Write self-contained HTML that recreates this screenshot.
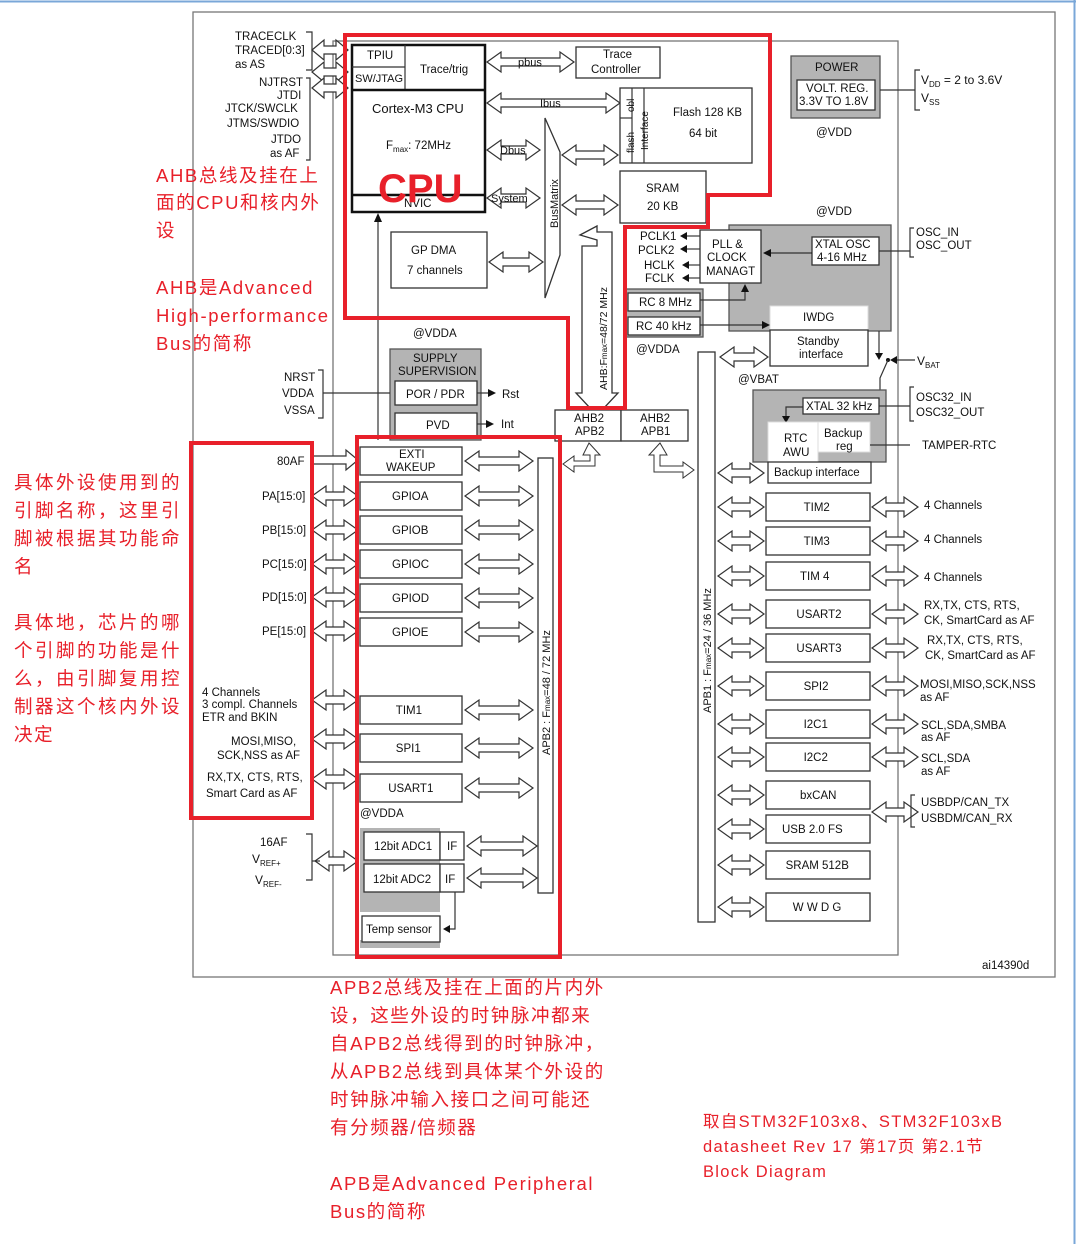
<!DOCTYPE html>
<html><head><meta charset="utf-8"><style>
body{margin:0;background:#fff}
svg{display:block}
text{font-family:"Liberation Sans",sans-serif;font-size:11.5px;fill:#111}
.r{font-family:"Liberation Sans","Noto Sans CJK SC",sans-serif;font-size:18.5px;fill:#e8202a;letter-spacing:1.6px}
.b{fill:#fff;stroke:#333;stroke-width:1.3}
.g{fill:#b4b4b4;stroke:#555;stroke-width:1.3}
.k{stroke:#333;stroke-width:1.2;fill:none}
.red{fill:none;stroke:#e8202a;stroke-width:4}
</style></head><body>
<svg id="s" width="1076" height="1244" viewBox="0 0 1076 1244" xmlns="http://www.w3.org/2000/svg">
<rect x="0" y="0" width="1076" height="1244" fill="#fff"/>
<line x1="0" y1="1.5" x2="1076" y2="1.5" stroke="#7aa7d8" stroke-width="2"/>
<line x1="1074.5" y1="0" x2="1074.5" y2="1244" stroke="#7aa7d8" stroke-width="2"/>
<rect x="193" y="12" width="862" height="965" fill="none" stroke="#777" stroke-width="1.3"/>
<rect x="333" y="41" width="565" height="914" fill="none" stroke="#777" stroke-width="1.3"/>
<g id="arrows"></g>
<!-- CPU -->
<rect x="352" y="45" width="133" height="167" class="b" style="stroke:#111;stroke-width:2.5"/>
<line x1="352" y1="67" x2="405" y2="67" class="k"/><line x1="405" y1="45" x2="405" y2="90" class="k"/>
<line x1="352" y1="90" x2="485" y2="90" stroke="#111" stroke-width="2.5"/>
<line x1="352" y1="195" x2="485" y2="195" stroke="#111" stroke-width="2.5"/>
<text x="367" y="59">TPIU</text><text x="355" y="82" style="font-size:11px">SW/JTAG</text><text x="420" y="73">Trace/trig</text>
<text x="372" y="113" style="font-size:13px">Cortex-M3 CPU</text>
<text x="386" y="149">F<tspan font-size="8" dy="3">max</tspan><tspan dy="-3">: 72MHz</tspan></text>
<text x="404" y="207">NVIC</text>
<text x="378" y="202" style="font-family:'Liberation Sans',sans-serif;font-size:40px;font-weight:bold;fill:#e8202a">CPU</text>
<rect x="576" y="47" width="84" height="31" class="b"/><text x="603" y="58">Trace</text><text x="591" y="73">Controller</text>
<rect x="620" y="88" width="132" height="75" class="b"/><line x1="632" y1="88" x2="632" y2="163" class="k"/><line x1="644" y1="88" x2="644" y2="163" class="k"/><line x1="620" y1="118" x2="632" y2="118" class="k"/>
<text x="673" y="116">Flash 128 KB</text><text x="689" y="137">64 bit</text>
<text transform="translate(634,112) rotate(-90)" style="font-size:10px">obl</text>
<text transform="translate(634,153) rotate(-90)" style="font-size:10px">flash</text>
<text transform="translate(648,150) rotate(-90)" style="font-size:10px">Interface</text>
<rect x="620" y="171" width="86" height="52" class="b"/><text x="646" y="192">SRAM</text><text x="647" y="210">20 KB</text>
<rect x="391" y="232" width="96" height="56" class="b"/><text x="411" y="254">GP DMA</text><text x="407" y="274">7 channels</text>
<polygon points="545,118 560,152 560,255 545,298" class="b"/>
<text transform="translate(558,228) rotate(-90)" style="font-size:11px">BusMatrix</text>
<line x1="378" y1="220" x2="378" y2="440" class="k"/><polygon points="374,222 382,222 378,213" fill="#111"/>
<!-- AHB vertical -->
<polygon points="580,235 597,226 597,232 612,232 612,393 618,393 604,408 590,408 576,393 582,393 582,246 597,246 597,240" class="b"/>
<text transform="translate(607,390) rotate(-90)" style="font-size:10.5px">AHB:F<tspan font-size="8">max</tspan>=48/72 MHz</text>
<rect x="555" y="410" width="66" height="31" class="b"/><rect x="621" y="410" width="67" height="31" class="b"/>
<text x="574" y="422">AHB2</text><text x="575" y="435">APB2</text><text x="640" y="422">AHB2</text><text x="641" y="435">APB1</text>
<!-- clocks -->
<text x="640" y="240">PCLK1</text><text x="638" y="254">PCLK2</text><text x="644" y="269">HCLK</text><text x="645" y="282">FCLK</text>
<g stroke="#111" stroke-width="1"><line x1="682" y1="236" x2="700" y2="236"/><line x1="682" y1="249" x2="700" y2="249"/><line x1="684" y1="265" x2="700" y2="265"/><line x1="684" y1="278" x2="700" y2="278"/></g>
<g fill="#111"><polygon points="680,236 687,232 687,240"/><polygon points="680,249 687,245 687,253"/><polygon points="682,265 689,261 689,269"/><polygon points="682,278 689,274 689,282"/></g>
<rect x="729" y="225" width="162" height="106" class="g"/>
<rect x="700" y="230" width="61" height="53" class="b"/><text x="712" y="248">PLL &amp;</text><text x="707" y="261">CLOCK</text><text x="706" y="275">MANAGT</text>
<rect x="812" y="237" width="67" height="28" class="b"/><text x="815" y="248">XTAL OSC</text><text x="817" y="261">4-16 MHz</text>
<line x1="766" y1="253" x2="812" y2="253" stroke="#111"/><polygon points="763,253 771,249 771,257" fill="#111"/>
<rect x="770" y="306" width="98" height="24" fill="#fff" stroke="#ddd"/><text x="803" y="321">IWDG</text>
<rect x="770" y="330" width="98" height="36" class="b"/><text x="797" y="345">Standby</text><text x="799" y="358">interface</text>
<rect x="624" y="289" width="79" height="48" class="g"/>
<rect x="628" y="293" width="72" height="18" class="b"/><text x="639" y="306">RC 8 MHz</text>
<rect x="628" y="317" width="72" height="18" class="b"/><text x="636" y="330">RC 40 kHz</text>
<polyline points="700,300 745,300 745,290" class="k"/><polygon points="741,292 749,292 745,284" fill="#111"/>
<line x1="700" y1="325" x2="762" y2="325" class="k"/><polygon points="762,321 770,325 762,329" fill="#111"/>
<text x="816" y="215">@VDD</text><text x="636" y="353">@VDDA</text><text x="738" y="383">@VBAT</text>
<line x1="879" y1="251" x2="910" y2="251" class="k"/><polyline points="914,228 910,228 910,257 914,257" class="k"/>
<text x="916" y="236">OSC_IN</text><text x="916" y="249">OSC_OUT</text>
<!-- power -->
<rect x="791" y="56" width="89" height="62" class="g"/><text x="815" y="71">POWER</text>
<rect x="797" y="80" width="78" height="30" class="b"/><text x="806" y="92">VOLT. REG.</text><text x="799" y="105">3.3V TO 1.8V</text>
<text x="816" y="136">@VDD</text>
<line x1="880" y1="90" x2="915" y2="90" class="k"/><polyline points="920,70 915,70 915,110 920,110" class="k"/>
<text x="921" y="84" style="font-size:12px">V<tspan font-size="8" dy="3">DD</tspan><tspan dy="-3"> = 2 to 3.6V</tspan></text>
<text x="921" y="102" style="font-size:12px">V<tspan font-size="8" dy="3">SS</tspan></text>
<!-- vbat -->
<polyline points="879,331 879,355" class="k"/><polygon points="875,353 883,353 879,360" fill="#111"/>
<circle cx="888" cy="360" r="2" fill="#111"/><line x1="892" y1="360" x2="915" y2="360" class="k"/><polygon points="890,360 897,356 897,364" fill="#111"/>
<text x="917" y="365" style="font-size:12px">V<tspan font-size="8" dy="3">BAT</tspan></text>
<polyline points="888,360 880,378 880,390" class="k"/>
<rect x="753" y="390" width="133" height="72" class="g"/>
<rect x="803" y="398" width="76" height="16" class="b"/><text x="806" y="410">XTAL 32 kHz</text>
<polyline points="803,407 786,407 786,418" class="k"/><polygon points="782,416 790,416 786,423" fill="#111"/>
<rect x="768" y="422" width="50" height="40" fill="#fff" stroke="#ddd"/><rect x="818" y="422" width="52" height="30" fill="#fff" stroke="#ddd"/>
<text x="784" y="442">RTC</text><text x="783" y="456">AWU</text><text x="824" y="437">Backup</text><text x="836" y="450">reg</text>
<rect x="768" y="462" width="103" height="21" class="b"/><text x="774" y="476">Backup interface</text>
<line x1="870" y1="445" x2="910" y2="445" class="k"/><text x="922" y="449">TAMPER-RTC</text>
<line x1="879" y1="406" x2="910" y2="406" class="k"/><polyline points="914,387 910,387 910,421 914,421" class="k"/>
<text x="916" y="401">OSC32_IN</text><text x="916" y="416">OSC32_OUT</text>
<!-- APB1 bar -->
<rect x="698" y="352" width="17" height="570" class="b"/>
<text transform="translate(711,713) rotate(-90)" style="font-size:11px">APB1 : F<tspan font-size="8">max</tspan>=24 / 36 MHz</text>
<g id="apb1"></g>
<text x="924" y="509">4 Channels</text><text x="924" y="543">4 Channels</text><text x="924" y="581">4 Channels</text>
<text x="924" y="609">RX,TX, CTS, RTS,</text><text x="924" y="624">CK, SmartCard as AF</text>
<text x="927" y="644">RX,TX, CTS, RTS,</text><text x="925" y="659">CK, SmartCard as AF</text>
<text x="920" y="688">MOSI,MISO,SCK,NSS</text><text x="920" y="701">as AF</text>
<text x="921" y="729">SCL,SDA,SMBA</text><text x="921" y="741">as AF</text>
<text x="921" y="762">SCL,SDA</text><text x="921" y="775">as AF</text>
<polyline points="915,795 911,795 911,827 915,827" class="k"/>
<text x="921" y="806">USBDP/CAN_TX</text><text x="921" y="822">USBDM/CAN_RX</text>
<text x="982" y="969">ai14390d</text>
<!-- supply -->
<text x="413" y="337">@VDDA</text>
<rect x="390" y="349" width="91" height="91" class="g"/><text x="413" y="362">SUPPLY</text><text x="398" y="375">SUPERVISION</text>
<rect x="395" y="381" width="82" height="24" class="b"/><text x="406" y="398">POR / PDR</text>
<rect x="395" y="413" width="82" height="24" class="b"/><text x="426" y="429">PVD</text>
<line x1="477" y1="393" x2="490" y2="393" class="k"/><polygon points="488,389 496,393 488,397" fill="#111"/><text x="502" y="398">Rst</text>
<line x1="477" y1="424" x2="488" y2="424" class="k"/><polygon points="486,420 494,424 486,428" fill="#111"/><text x="501" y="428">Int</text>
<line x1="323" y1="393" x2="390" y2="393" class="k"/><polyline points="318,370 323,370 323,418 318,418" class="k"/>
<text x="284" y="381">NRST</text><text x="282" y="397">VDDA</text><text x="284" y="414">VSSA</text>
<!-- trace pins -->
<polyline points="306,32 312,32 312,70 306,70" class="k"/><polyline points="306,78 310,78 310,160 306,160" class="k"/>
<text x="235" y="40">TRACECLK</text><text x="235" y="54">TRACED[0:3]</text><text x="235" y="68">as AS</text>
<text x="259" y="86">NJTRST</text><text x="277" y="99">JTDI</text><text x="225" y="112">JTCK/SWCLK</text><text x="227" y="127">JTMS/SWDIO</text><text x="271" y="143">JTDO</text><text x="270" y="157">as AF</text>
<!-- APB2 -->
<rect x="538" y="458" width="15" height="435" class="b"/>
<text transform="translate(550,755) rotate(-90)" style="font-size:11px">APB2 : F<tspan font-size="8">max</tspan>=48 / 72 MHz</text>
<g id="apb2"></g>
<text x="360" y="817">@VDDA</text>
<rect x="360" y="828" width="80" height="84" fill="#b4b4b4"/>
<rect x="360" y="940" width="80" height="8" fill="#b4b4b4"/>
<rect x="364" y="832" width="76" height="28" class="b"/><rect x="364" y="864" width="76" height="28" class="b"/>
<rect x="440" y="832" width="24" height="28" class="b"/><rect x="440" y="864" width="24" height="28" class="b"/>
<text x="374" y="850">12bit ADC1</text><text x="373" y="883">12bit ADC2</text><text x="447" y="850">IF</text><text x="445" y="883">IF</text>
<rect x="362" y="916" width="78" height="26" class="b"/><text x="366" y="933">Temp sensor</text>
<polyline points="455,892 455,929 448,929" class="k"/><polygon points="450,925 450,933 443,929" fill="#111"/>
<text x="277" y="465">80AF</text><text x="262" y="500">PA[15:0]</text><text x="262" y="534">PB[15:0]</text><text x="262" y="568">PC[15:0]</text><text x="262" y="601">PD[15:0]</text><text x="262" y="635">PE[15:0]</text>
<text x="202" y="696">4 Channels</text><text x="202" y="708">3 compl. Channels</text><text x="202" y="721">ETR and BKIN</text>
<text x="231" y="745">MOSI,MISO,</text><text x="217" y="759">SCK,NSS as AF</text>
<text x="207" y="781">RX,TX, CTS, RTS,</text><text x="206" y="797">Smart Card as AF</text>
<polyline points="306,834 312,834 312,880 306,880" class="k"/><line x1="312" y1="861" x2="320" y2="861" class="k"/>
<text x="260" y="846">16AF</text>
<text x="252" y="863" style="font-size:12px">V<tspan font-size="8" dy="3">REF+</tspan></text>
<text x="255" y="884" style="font-size:12px">V<tspan font-size="8" dy="3">REF-</tspan></text>
<!-- red -->
<polygon points="345,35 770,35 770,195 708,195 708,227 625,227 625,408 568,408 568,318 345,318" class="red"/>
<rect x="191" y="443" width="121" height="375" class="red"/>
<rect x="357" y="437" width="203" height="520" class="red"/>
<text class="r" x="156" y="182">AHB总线及挂在上</text><text class="r" x="156" y="209">面的CPU和核内外</text><text class="r" x="156" y="237">设</text>
<text class="r" x="156" y="294">AHB是Advanced</text><text class="r" x="156" y="322">High-performance</text><text class="r" x="156" y="350">Bus的简称</text>
<g style="letter-spacing:2.5px">
<text class="r" style="letter-spacing:2.5px" x="14" y="489">具体外设使用到的</text><text class="r" style="letter-spacing:2.5px" x="14" y="517">引脚名称，这里引</text><text class="r" style="letter-spacing:2.5px" x="14" y="545">脚被根据其功能命</text><text class="r" x="14" y="573">名</text>
<text class="r" style="letter-spacing:2.5px" x="14" y="629">具体地，芯片的哪</text><text class="r" style="letter-spacing:2.5px" x="14" y="657">个引脚的功能是什</text><text class="r" style="letter-spacing:2.5px" x="14" y="685">么，由引脚复用控</text><text class="r" style="letter-spacing:2.5px" x="14" y="713">制器这个核内外设</text><text class="r" x="14" y="741">决定</text>
</g>
<text class="r" x="330" y="994">APB2总线及挂在上面的片内外</text><text class="r" x="330" y="1022">设，这些外设的时钟脉冲都来</text><text class="r" x="330" y="1050">自APB2总线得到的时钟脉冲，</text><text class="r" x="330" y="1078">从APB2总线到具体某个外设的</text><text class="r" x="330" y="1106">时钟脉冲输入接口之间可能还</text><text class="r" x="330" y="1134">有分频器/倍频器</text>
<text class="r" x="330" y="1190">APB是Advanced Peripheral</text><text class="r" x="330" y="1218">Bus的简称</text>
<text class="r" style="font-size:16.5px;letter-spacing:1.3px" x="703" y="1127">取自STM32F103x8、STM32F103xB</text><text class="r" style="font-size:16.5px;letter-spacing:1.3px" x="703" y="1152">datasheet Rev 17 第17页  第2.1节</text><text class="r" style="font-size:16.5px;letter-spacing:1.3px" x="703" y="1177">Block Diagram</text>
</svg>
<script>
var NS="http://www.w3.org/2000/svg";
function el(g,tag,a){var e=document.createElementNS(NS,tag);for(var k in a)e.setAttribute(k,a[k]);document.getElementById(g).appendChild(e);return e;}
function ha(g,x1,x2,y,H,S){H=H||10;S=S||4;var h=Math.min(14,(x2-x1)/3);
el(g,"polygon",{points:[x1,y,x1+h,y-H,x1+h,y-S,x2-h,y-S,x2-h,y-H,x2,y,x2-h,y+H,x2-h,y+S,x1+h,y+S,x1+h,y+H].join(" "),fill:"#fff",stroke:"#333","stroke-width":1.2});}
function ra(g,x1,x2,y){var h=12;el(g,"polygon",{points:[x1,y-4,x2-h,y-4,x2-h,y-10,x2,y,x2-h,y+10,x2-h,y+4,x1,y+4].join(" "),fill:"#fff",stroke:"#333","stroke-width":1.2});}
function txt(g,x,y,s,fs){var t=el(g,"text",{x:x,y:y});if(fs)t.setAttribute("style","font-size:"+fs+"px");t.textContent=s;}
var A="arrows";
ha(A,312,348,50);ha(A,312,348,72);ha(A,312,348,88);
ha(A,487,574,62);ha(A,487,620,103);ha(A,487,540,150);ha(A,487,540,198);ha(A,489,543,262);
ha(A,562,618,155);ha(A,562,618,205);ha(A,720,768,357);ha(A,718,764,473);
txt(A,518,66,"pbus",11);txt(A,540,107,"Ibus",11);txt(A,500,154,"Dbus",11);txt(A,491,202,"System",11);
el(A,"polygon",{points:"589,443 600,455 595,455 595,466 574,466 574,472 563,464 574,456 574,461 590,461 590,455 583,455",fill:"#fff",stroke:"#333"});
el(A,"polygon",{points:"660,443 649,455 654,455 654,472 683,472 683,478 694,470 683,462 683,466 660,466 660,455 667,455",fill:"#fff",stroke:"#333"});
var B="apb2";
var p=[["EXTI",447,28],["GPIOA",482,28],["GPIOB",516,28],["GPIOC",550,28],["GPIOD",584,28],["GPIOE",618,28],["TIM1",696,28],["SPI1",734,28],["USART1",774,28]];
p.forEach(function(q){el(B,"rect",{x:360,y:q[1],width:102,height:q[2],fill:"#fff",stroke:"#333","stroke-width":1.3});
var c=q[1]+q[2]/2; if(q[0]=="EXTI"){txt(B,399,q[1]+11,"EXTI");txt(B,386,q[1]+24,"WAKEUP");}else txt(B,411-q[0].length*3.8,c+4,q[0]);
ha(B,465,533,c);});
ha(B,467,537,846);ha(B,467,537,878);
ra(B,312,358,460);[496,530,564,597,631,700,739,779].forEach(function(y){ha(B,312,358,y);});ha(B,315,358,861);
var C="apb1";
var q=[["TIM2",493],["TIM3",527],["TIM 4",562],["USART2",600],["USART3",634],["SPI2",672],["I2C1",710],["I2C2",743],["bxCAN",781],["USB 2.0 FS",815],["SRAM 512B",851],["W W D G",893]];
q.forEach(function(r,i){el(C,"rect",{x:766,y:r[1],width:104,height:28,fill:"#fff",stroke:"#333","stroke-width":1.3});
txt(C,818-r[0].length*3.6,r[1]+18,r[0]);ha(C,718,764,r[1]+14);if(i<8)ha(C,872,918,r[1]+14);});
ha(C,872,918,812);
</script>
</body></html>
